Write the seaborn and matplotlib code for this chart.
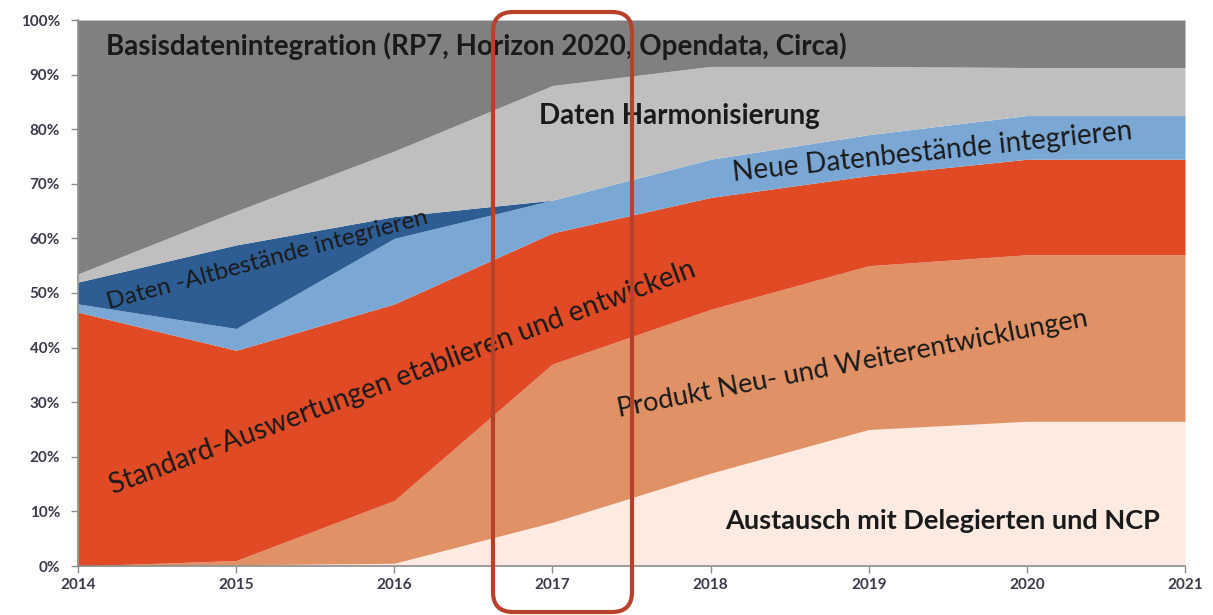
import numpy as np
import pandas as pd
import matplotlib
matplotlib.use("Agg")
import matplotlib.pyplot as plt
import seaborn as sns
from matplotlib.patches import FancyBboxPatch
from matplotlib.transforms import IdentityTransform
from matplotlib.ticker import PercentFormatter

years = [2014, 2015, 2016, 2017, 2018, 2019, 2020, 2021]
austausch = [0, 0.2, 0.5, 8, 17, 25, 26.5, 26.5]
produkt = [0, 0.8, 11.5, 29, 30, 30, 30.5, 30.5]
standard = [46.5, 38.5, 36, 24, 20.5, 16.5, 17.5, 17.5]
neue = [1.5, 4, 12, 6, 7, 7.5, 8, 8]
altbestaende = [4, 15.3, 4, 0, 0, 0, 0, 0]
harmonisierung = [1.5, 6.2, 12, 21, 17, 12.5, 8.8, 8.8]
basis = [46.5, 35, 24, 12, 8.5, 8.5, 8.7, 8.7]

series_names = ["Austausch mit Delegierten und NCP", "Produkt Neu- und Weiterentwicklungen",
                "Standard-Auswertungen etablieren und entwickeln", "Neue Datenbestände integrieren",
                "Daten -Altbestände integrieren", "Daten Harmonisierung",
                "Basisdatenintegration (RP7, Horizon 2020, Opendata, Circa)"]
colors = ["#FDEBE1", "#E09166", "#E04A25", "#7BA7D4", "#2E5D93", "#BFBFBF", "#808080"]

df = pd.DataFrame({"year": years, "a": austausch, "p": produkt, "s": standard, "n": neue,
                   "al": altbestaende, "h": harmonisierung, "b": basis})

sns.set_theme(style="white")
plt.rcParams['font.family'] = ['Lato', 'DejaVu Sans']

fig = plt.figure(figsize=(12.13, 6.15), dpi=100)
ax = fig.add_axes([78/1213, 49/615, (1185-78)/1213, (566-20)/615])

ax.stackplot(df["year"], df["a"], df["p"], df["s"], df["n"], df["al"], df["h"], df["b"],
             colors=colors, labels=series_names, linewidth=0)

ax.set_xlim(2014, 2021)
ax.set_ylim(0, 100)
ax.set_xticks(years)
ax.set_yticks(np.arange(0, 101, 10))
ax.yaxis.set_major_formatter(PercentFormatter(decimals=0))
sns.despine(ax=ax, top=True, right=True)
for s in ["left", "bottom"]:
    ax.spines[s].set_color("#8C8C8C")
    ax.spines[s].set_linewidth(1.2)
ax.tick_params(axis="both", which="both", direction="out", length=5, width=1, color="#8C8C8C",
               labelsize=11, labelcolor="#3A3A4A", left=True, bottom=True)
ax.tick_params(axis="y", pad=8)
for lbl in ax.get_xticklabels() + ax.get_yticklabels():
    lbl.set_fontweight("bold")

tc = "#1A1A1A"
ax.text(2014.18, 95.2, "Basisdatenintegration (RP7, Horizon 2020, Opendata, Circa)",
        fontsize=20, fontweight="bold", color=tc, ha="left", va="center")
ax.text(2017.8, 82.5, "Daten Harmonisierung", fontsize=20, fontweight="bold", color=tc,
        ha="center", va="center")
ax.text(2019.4, 75.8, "Neue Datenbestände integrieren", fontsize=20, color=tc,
        ha="center", va="center", rotation=6)
ax.text(2015.2, 56.0, "Daten -Altbestände integrieren", fontsize=17.5, color=tc,
        ha="center", va="center", rotation=15)
ax.text(2016.05, 34.5, "Standard-Auswertungen etablieren und entwickeln", fontsize=20,
        color=tc, ha="center", va="center", rotation=20.5)
ax.text(2018.9, 37.0, "Produkt Neu- und Weiterentwicklungen", fontsize=19.5, color=tc,
        ha="center", va="center", rotation=11)
ax.text(2019.47, 8.2, "Austausch mit Delegierten und NCP", fontsize=19.5, fontweight="bold",
        color=tc, ha="center", va="center")

# rounded highlight box around 2017 (pixel coordinates)
r = 20
x0, x1 = 493, 632
y0, y1 = 615 - 612, 615 - 12
box = FancyBboxPatch((x0 + r, y0 + r), (x1 - x0) - 2 * r, (y1 - y0) - 2 * r,
                     boxstyle=f"round,pad={r}", transform=IdentityTransform(),
                     facecolor="none", edgecolor="#B8412C", linewidth=3, clip_on=False)
fig.patches.append(box)

fig.savefig("out.png", dpi=100)
